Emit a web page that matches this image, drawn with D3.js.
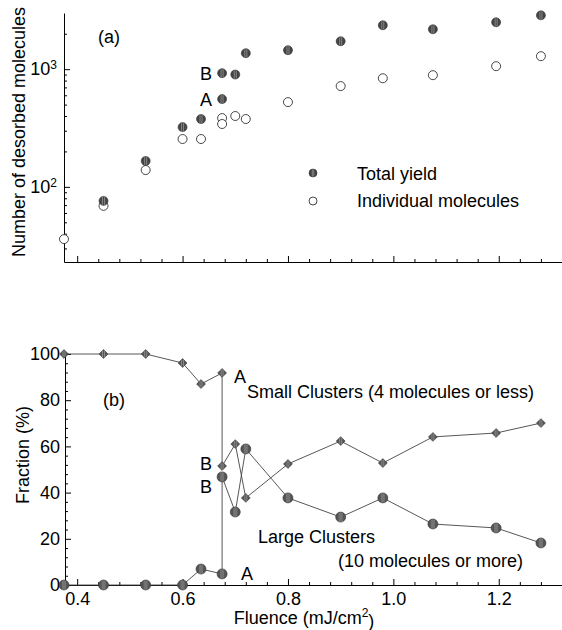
<!DOCTYPE html>
<html>
<head>
<meta charset="utf-8">
<script src="https://cdn.jsdelivr.net/npm/d3@7"></script>
<style>
  body { margin: 0; background: #fff; }
  svg { font-family: "Liberation Sans", Arial, Helvetica, sans-serif; }
  .axis path, .axis line { stroke: #000; stroke-width: 1px; }
  .axis text { font-size: 18px; fill: #000; }
</style>
</head>
<body>
<div id="chart"></div>
<script>
// fluence (mJ/cm2); the two 0.675 entries are runs A and B
var fluence = [0.375, 0.45, 0.53, 0.60, 0.635, 0.675, 0.675, 0.70, 0.72, 0.80, 0.90, 0.98, 1.075, 1.195, 1.28];
var runLabel = ["", "", "", "", "", "A", "B", "", "", "", "", "", "", "", ""];

// panel (a): number of desorbed molecules
var totalYield = [null, 76, 166, 322, 377, 557, 925, 900, 1367, 1449, 1727, 2360, 2183, 2502, 2867];
var individual = [36, 69, 139, 255, 255, 384, 342, 400, 377, 525, 718, 837, 889, 1060, 1289];

// panel (b): fraction (%)
var smallClusters = [100, 100, 100, 96.1, 87.0, 91.8, 51.5, 61.0, 37.7, 52.4, 62.3, 52.8, 64.1, 65.8, 70.1];
var largeClusters = [0, 0, 0, 0, 6.9, 4.8, 46.8, 31.6, 58.9, 37.7, 29.4, 37.7, 26.4, 24.7, 18.2];

var xMajor = [0.4, 0.6, 0.8, 1.0, 1.2];
var yMajorA = [100, 1000];
var yMajorB = [0, 20, 40, 60, 80, 100];

var W = 562, H = 630;
var fs = "18px";
var svg = d3.select("#chart").append("svg").attr("width", W).attr("height", H);

// striped fill like the scanned markers
var defs = svg.append("defs");
function stripes(id, base) {
    var p = defs.append("pattern").attr("id", id)
        .attr("patternUnits", "objectBoundingBox")
        .attr("patternContentUnits", "objectBoundingBox")
        .attr("width", 1).attr("height", 1);
    p.append("rect").attr("width", 1).attr("height", 1).attr("fill", base);
    p.append("rect").attr("x", 0.36).attr("width", 0.08).attr("height", 1).attr("fill", "#a0a0a0");
    p.append("rect").attr("x", 0.56).attr("width", 0.08).attr("height", 1).attr("fill", "#a0a0a0");
}
stripes("darkStripe", "#444");
stripes("midStripe", "#555");

var x = d3.scaleLinear().domain([0.375, 1.32]).range([64, 562]);
var xMinor = d3.range(0.44, 1.32, 0.04).filter(v => !xMajor.some(m => Math.abs(m - v) < 1e-6));

// ---------- panel (a) ----------
var yA = d3.scaleLog().domain([23, 3000]).range([262, 13]);
var yMinorA = [30, 40, 50, 60, 70, 80, 90, 200, 300, 400, 500, 600, 700, 800, 900, 2000];

var gA = svg.append("g");

gA.append("g").attr("class", "axis").attr("transform", "translate(0,262)")
    .call(d3.axisBottom(x).tickValues(xMajor).tickSize(-6).tickSizeOuter(0).tickFormat(""));
gA.append("g").attr("class", "axis").attr("transform", "translate(0,262)")
    .call(d3.axisBottom(x).tickValues(xMinor).tickSize(-3).tickSizeOuter(0).tickFormat(""))
    .select(".domain").remove();

gA.append("g").attr("class", "axis").attr("transform", "translate(64,0)")
    .call(d3.axisLeft(yA).tickValues(yMajorA).tickSize(-6).tickSizeOuter(0).tickPadding(7)
        .tickFormat(d => "10"))
    .call(g => g.selectAll(".tick text").append("tspan")
        .attr("dy", "-0.55em").style("font-size", "12px")
        .text(d => Math.round(Math.log10(d))));
gA.append("g").attr("class", "axis").attr("transform", "translate(64,0)")
    .call(d3.axisLeft(yA).tickValues(yMinorA).tickSize(-3).tickSizeOuter(0).tickFormat(""))
    .select(".domain").remove();

gA.append("text").attr("transform", "translate(25,132) rotate(-90)")
    .attr("text-anchor", "middle").style("font-size", fs)
    .text("Number of desorbed molecules");

gA.append("text").attr("x", 98).attr("y", 43).style("font-size", fs).text("(a)");

var ptsA = fluence.map((f, i) => ({ f: f, total: totalYield[i], ind: individual[i], lab: runLabel[i] }));

gA.selectAll(".ind").data(ptsA).join("circle").attr("class", "ind")
    .attr("cx", d => x(d.f)).attr("cy", d => yA(d.ind)).attr("r", 4.5)
    .attr("fill", "#fff").attr("stroke", "#333").attr("stroke-width", 0.9);

gA.selectAll(".tot").data(ptsA.filter(d => d.total != null)).join("circle").attr("class", "tot")
    .attr("cx", d => x(d.f)).attr("cy", d => yA(d.total)).attr("r", 4.5)
    .attr("fill", "url(#darkStripe)").attr("stroke", "#333").attr("stroke-width", 0.6);

gA.selectAll(".runlab").data(ptsA.filter(d => d.lab)).join("text").attr("class", "runlab")
    .attr("x", d => x(d.f) - 22).attr("y", d => yA(d.total) + 7)
    .attr("text-anchor", "start").style("font-size", fs).text(d => d.lab);

// legend
var legA = gA.append("g").attr("transform", "translate(313,173)");
legA.append("circle").attr("r", 4).attr("fill", "url(#darkStripe)").attr("stroke", "#333").attr("stroke-width", 0.6);
legA.append("text").attr("x", 44).attr("y", 7).style("font-size", fs).text("Total yield");
legA.append("circle").attr("cy", 28).attr("r", 4).attr("fill", "#fff").attr("stroke", "#333").attr("stroke-width", 0.9);
legA.append("text").attr("x", 44).attr("y", 34).style("font-size", fs).text("Individual molecules");

// ---------- panel (b) ----------
var yB = d3.scaleLinear().domain([0, 100]).range([585, 354]);
var yMinorB = d3.range(4, 100, 4).filter(v => v % 20 !== 0);

var gB = svg.append("g");

gB.append("g").attr("class", "axis").attr("transform", "translate(0,585)")
    .call(d3.axisBottom(x).tickValues(xMajor).tickSize(-6).tickSizeOuter(0).tickPadding(7)
        .tickFormat(d3.format(".1f")));
gB.append("g").attr("class", "axis").attr("transform", "translate(0,585)")
    .call(d3.axisBottom(x).tickValues(xMinor).tickSize(-3).tickSizeOuter(0).tickFormat(""))
    .select(".domain").remove();

gB.append("g").attr("class", "axis").attr("transform", "translate(65,0)")
    .call(d3.axisLeft(yB).tickValues(yMajorB).tickSize(-6).tickSizeOuter(0).tickPadding(5));
gB.append("g").attr("class", "axis").attr("transform", "translate(65,0)")
    .call(d3.axisLeft(yB).tickValues(yMinorB).tickSize(-3).tickSizeOuter(0).tickFormat(""))
    .select(".domain").remove();

gB.append("text").attr("transform", "translate(29,455) rotate(-90)")
    .attr("text-anchor", "middle").style("font-size", fs).text("Fraction (%)");

var xl = gB.append("text").attr("x", 304).attr("y", 624).attr("text-anchor", "middle")
    .style("font-size", fs);
xl.append("tspan").text("Fluence (mJ/cm");
xl.append("tspan").attr("dy", "-0.55em").style("font-size", "12px").text("2");
xl.append("tspan").attr("dy", "0.55em").text(")");

gB.append("text").attr("x", 103).attr("y", 406).style("font-size", fs).text("(b)");

var ptsB = fluence.map((f, i) => ({ f: f, small: smallClusters[i], large: largeClusters[i], lab: runLabel[i] }));

var line = d3.line().x(d => x(d[0])).y(d => yB(d[1]));
gB.append("path").datum(ptsB.map(d => [d.f, d.small])).attr("d", line)
    .attr("fill", "none").attr("stroke", "#444").attr("stroke-width", 0.9);
gB.append("path").datum(ptsB.map(d => [d.f, d.large])).attr("d", line)
    .attr("fill", "none").attr("stroke", "#444").attr("stroke-width", 0.9);

gB.selectAll(".large").data(ptsB).join("circle").attr("class", "large")
    .attr("cx", d => x(d.f)).attr("cy", d => yB(d.large)).attr("r", 5)
    .attr("fill", "url(#midStripe)").attr("stroke", "#333").attr("stroke-width", 0.6);

var diamond = d3.symbol().type(d3.symbolDiamond2).size(50);
gB.selectAll(".small").data(ptsB).join("path").attr("class", "small")
    .attr("transform", d => "translate(" + x(d.f) + "," + yB(d.small) + ")")
    .attr("d", diamond)
    .attr("fill", "url(#midStripe)").attr("stroke", "#333").attr("stroke-width", 0.6);

// run labels A / B
var labB = ptsB.filter(d => d.lab);
gB.selectAll(".labS").data(labB).join("text").attr("class", "labS")
    .attr("x", d => d.lab === "A" ? x(d.f) + 12 : x(d.f) - 22)
    .attr("y", d => yB(d.small) + (d.lab === "A" ? 10 : 4))
    .style("font-size", fs).text(d => d.lab);
gB.selectAll(".labL").data(labB).join("text").attr("class", "labL")
    .attr("x", d => d.lab === "A" ? x(d.f) + 19 : x(d.f) - 22)
    .attr("y", d => yB(d.large) + (d.lab === "A" ? 6 : 16))
    .style("font-size", fs).text(d => d.lab);

gB.append("text").attr("x", 247).attr("y", 398).style("font-size", fs)
    .text("Small Clusters (4 molecules or less)");
gB.append("text").attr("x", 258).attr("y", 543).style("font-size", fs)
    .text("Large Clusters");
gB.append("text").attr("x", 338).attr("y", 567).style("font-size", fs)
    .text("(10 molecules or more)");
</script>
</body>
</html>
